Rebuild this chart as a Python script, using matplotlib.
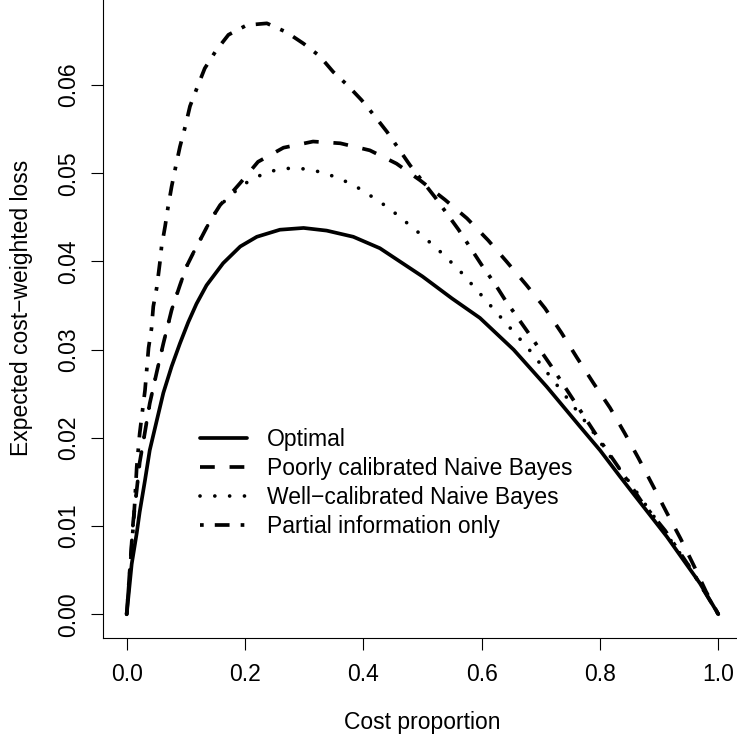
import matplotlib
matplotlib.use("Agg")
from matplotlib import pyplot as plt

# curves
optimal_x = [0, 0.0085, 0.017, 0.022, 0.031, 0.039, 0.051, 0.062, 0.076, 0.090, 0.104,
             0.118, 0.135, 0.163, 0.192, 0.22, 0.259, 0.299, 0.338, 0.383, 0.428, 0.5,
             0.55, 0.597, 0.654, 0.71, 0.766, 0.8, 0.834, 0.856, 0.913, 0.969, 1.0]
optimal_y = [0, 0.0057, 0.0092, 0.0116, 0.0152, 0.0186, 0.022, 0.0251, 0.0281, 0.0307, 0.0331,
             0.0352, 0.0373, 0.0398, 0.0417, 0.0428, 0.0436, 0.0438, 0.0435, 0.0428, 0.0415, 0.0383,
             0.0358, 0.0336, 0.030, 0.0258, 0.0213, 0.0186, 0.0156, 0.0137, 0.0088, 0.0035, 0]

poor_x = [0, 0.011, 0.017, 0.022, 0.031, 0.039, 0.051, 0.062, 0.076, 0.09, 0.101, 0.118,
          0.127, 0.141, 0.158, 0.175, 0.192, 0.222, 0.265, 0.315, 0.361, 0.411, 0.456,
          0.496, 0.538, 0.575, 0.611, 0.642, 0.676, 0.707, 0.735, 0.761, 0.789, 0.817,
          0.842, 0.865, 0.89, 0.913, 0.936, 0.958, 0.979, 1.0]
poor_y = [0, 0.0105, 0.0141, 0.0172, 0.0207, 0.0239, 0.0275, 0.0307, 0.0345, 0.0373, 0.0394, 0.0417,
          0.0428, 0.0446, 0.0464, 0.0476, 0.0489, 0.0513, 0.0529, 0.0536, 0.0534, 0.0526, 0.0511,
          0.0492, 0.047, 0.0449, 0.0424, 0.040, 0.0373, 0.0347, 0.0319, 0.0291, 0.0262, 0.0234,
          0.0205, 0.0177, 0.0145, 0.0115, 0.0086, 0.0056, 0.0026, 0]

well_x = [0, 0.011, 0.017, 0.022, 0.031, 0.039, 0.051, 0.062, 0.076, 0.09, 0.101, 0.118,
          0.127, 0.141, 0.158, 0.175, 0.192, 0.214, 0.237, 0.261, 0.286, 0.311, 0.336,
          0.359, 0.383, 0.404, 0.425, 0.446, 0.486, 0.524, 0.561, 0.594, 0.611, 0.645,
          0.678, 0.74, 0.786, 0.814, 0.854, 0.89, 0.95, 1.0]
well_y = [0, 0.0105, 0.0141, 0.0172, 0.0207, 0.0239, 0.0275, 0.0307, 0.0345, 0.0373, 0.0394, 0.0417,
          0.0428, 0.0446, 0.0464, 0.0474, 0.0485, 0.0494, 0.0501, 0.0505, 0.0506, 0.0504, 0.050,
          0.0494, 0.0487, 0.0478, 0.0469, 0.0459, 0.0437, 0.0415, 0.0391, 0.0366, 0.0353, 0.0327,
          0.0302, 0.0249, 0.0209, 0.0182, 0.0146, 0.0112, 0.0055, 0]

partial_x = [0, 0.011, 0.014, 0.017, 0.022, 0.031, 0.037, 0.042, 0.045, 0.051, 0.056, 0.059,
             0.065, 0.07, 0.076, 0.083, 0.09, 0.099, 0.107, 0.119, 0.132, 0.151, 0.172,
             0.203, 0.237, 0.27, 0.299, 0.326, 0.349, 0.373, 0.397, 0.419, 0.44, 0.479,
             0.521, 0.561, 0.6, 0.623, 0.64, 0.679, 0.718, 0.757, 0.794, 0.834, 0.87,
             0.91, 0.95, 1.0]
partial_y = [0, 0.0099, 0.013, 0.0167, 0.0205, 0.0254, 0.0302, 0.0324, 0.0349, 0.0371, 0.0398, 0.0417,
             0.044, 0.0462, 0.0485, 0.0508, 0.053, 0.0553, 0.0576, 0.0597, 0.0619, 0.0639, 0.0657,
             0.0668, 0.067, 0.066, 0.0647, 0.0633, 0.0615, 0.060, 0.0583, 0.0565, 0.0547, 0.0509,
             0.0473, 0.0436, 0.0396, 0.0374, 0.0356, 0.0319, 0.0281, 0.0241, 0.0203, 0.0164, 0.0128,
             0.0095, 0.0055, 0]

labels = ["Optimal", "Poorly calibrated Naive Bayes",
          "Well\u2212calibrated Naive Bayes", "Partial information only"]
x_ticks = [0.0, 0.2, 0.4, 0.6, 0.8, 1.0]
y_ticks = [0.00, 0.01, 0.02, 0.03, 0.04, 0.05, 0.06]

plt.rcParams["font.family"] = ["Liberation Sans", "DejaVu Sans"]
plt.rcParams["font.size"] = 16.5

fig = plt.figure(figsize=(7.37, 7.37), dpi=100)
W = 737.0
ax = fig.add_axes([103 / W, 99 / W, 639 / W, 660 / W])

lw = 2.66
ax.plot(optimal_x, optimal_y, color="black", lw=lw, solid_capstyle="round",
        solid_joinstyle="round", label=labels[0])
ax.plot(poor_x, poor_y, color="black", lw=lw, dashes=(4, 4), label=labels[1])
ax.plot(well_x, well_y, color="black", lw=lw, dashes=(0.01, 4),
        dash_capstyle="round", label=labels[2])
ax.plot(partial_x, partial_y, color="black", lw=lw, dashes=(1, 3, 4, 3),
        label=labels[3])

ax.set_xlim(-0.04, 1.04)
ax.set_ylim(-0.00269, 0.07214)
ax.set_xticks(x_ticks)
ax.set_xticklabels([f"{t:.1f}" for t in x_ticks])
ax.set_yticks(y_ticks)
ax.set_yticklabels([f"{t:.2f}" for t in y_ticks], rotation=90, va="center")

for side in ["top", "right"]:
    ax.spines[side].set_visible(False)
for side in ["left", "bottom"]:
    ax.spines[side].set_linewidth(0.8)
ax.tick_params(direction="out", length=8.6, width=0.8, colors="black")
ax.tick_params(axis="x", pad=9.5)
ax.tick_params(axis="y", pad=8)

ax.set_xlabel("Cost proportion", labelpad=18)
ax.set_ylabel("Expected cost\u2212weighted loss", labelpad=17)

ax.legend(frameon=False, loc="upper left", bbox_to_anchor=(200 / W, 1 - 428 / W),
          bbox_transform=fig.transFigure, borderpad=0, borderaxespad=0,
          handlelength=2.05, handletextpad=0.87, labelspacing=0.26)

fig.savefig("out.png", dpi=100)
